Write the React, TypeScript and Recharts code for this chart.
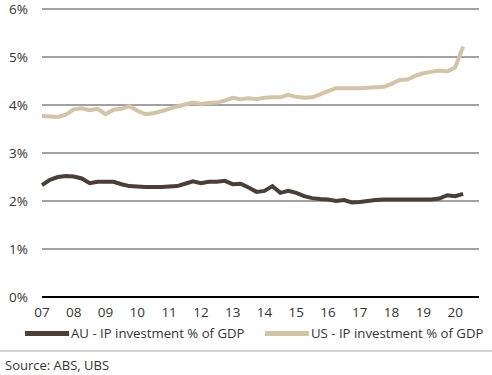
import { LineChart, Line, XAxis, YAxis, CartesianGrid } from 'recharts';

// quarterly, 2007 Q1 .. 2020 Q2
const quarters = [
  '07Q1', '07Q2', '07Q3', '07Q4', '08Q1', '08Q2', '08Q3', '08Q4', '09Q1', '09Q2', '09Q3', '09Q4',
  '10Q1', '10Q2', '10Q3', '10Q4', '11Q1', '11Q2', '11Q3', '11Q4', '12Q1', '12Q2', '12Q3', '12Q4',
  '13Q1', '13Q2', '13Q3', '13Q4', '14Q1', '14Q2', '14Q3', '14Q4', '15Q1', '15Q2', '15Q3', '15Q4',
  '16Q1', '16Q2', '16Q3', '16Q4', '17Q1', '17Q2', '17Q3', '17Q4', '18Q1', '18Q2', '18Q3', '18Q4',
  '19Q1', '19Q2', '19Q3', '19Q4', '20Q1', '20Q2',
];

const auSeries = [
  2.33, 2.44, 2.50, 2.52, 2.51, 2.47, 2.37, 2.40, 2.40, 2.40, 2.35, 2.31,
  2.30, 2.29, 2.29, 2.29, 2.30, 2.31, 2.36, 2.41, 2.37, 2.40, 2.40, 2.42,
  2.35, 2.36, 2.28, 2.19, 2.21, 2.31, 2.17, 2.21, 2.17, 2.10, 2.06, 2.04,
  2.03, 2.00, 2.02, 1.97, 1.98, 2.00, 2.02, 2.03, 2.03, 2.03, 2.03, 2.03,
  2.03, 2.03, 2.05, 2.12, 2.10, 2.15,
];

const usSeries = [
  3.77, 3.76, 3.75, 3.80, 3.91, 3.93, 3.89, 3.92, 3.81, 3.90, 3.92, 3.98,
  3.88, 3.81, 3.83, 3.87, 3.92, 3.97, 4.01, 4.05, 4.02, 4.04, 4.05, 4.09,
  4.15, 4.12, 4.14, 4.12, 4.15, 4.16, 4.16, 4.21, 4.17, 4.15, 4.16, 4.22,
  4.29, 4.35, 4.35, 4.35, 4.35, 4.36, 4.37, 4.38, 4.44, 4.52, 4.53, 4.61,
  4.66, 4.69, 4.72, 4.70, 4.78, 5.22,
];

const yearLabels = ['07', '08', '09', '10', '11', '12', '13', '14', '15', '16', '17', '18', '19', '20'];
const yTicks = [0, 1, 2, 3, 4, 5, 6];

const series = [
  { key: 'au', name: 'AU - IP investment % of GDP', color: '#4a3e36' },
  { key: 'us', name: 'US - IP investment % of GDP', color: '#d2c4a5' },
];

const data = quarters.map((q, i) => ({ t: i, q, au: auSeries[i], us: usSeries[i] }));
const xTicks = yearLabels.map((_, i) => i * 4);

const font = '"Open Sans", sans-serif';
const textColor = '#333';

export default function App() {
  return (
    <div style={{ position: 'absolute', left: 0, top: 0, width: 492, height: 375, background: '#fff', fontFamily: font }}>
      <LineChart width={492} height={322} data={data} margin={{ top: 9, right: 13, bottom: 0, left: 0 }}>
        <CartesianGrid horizontal vertical={false} stroke="#444" />
        <XAxis
          dataKey="t"
          type="number"
          domain={[0, 55]}
          ticks={xTicks}
          tickFormatter={(v: number) => yearLabels[v / 4]}
          interval={0}
          height={25}
          tickLine={false}
          axisLine={{ stroke: '#000', strokeWidth: 2 }}
          tick={{ fill: textColor, fontSize: 13.5, fontFamily: font }}
          tickMargin={4}
        />
        <YAxis
          domain={[0, 6]}
          ticks={yTicks}
          width={42}
          tickFormatter={(v: number) => `${v}%`}
          tickLine={false}
          axisLine={false}
          tick={{ fill: textColor, fontSize: 13.5, fontFamily: font }}
          tickMargin={8}
        />
        {series.map(s => (
          <Line
            key={s.key}
            dataKey={s.key}
            name={s.name}
            stroke={s.color}
            strokeWidth={4}
            dot={false}
            type="linear"
            isAnimationActive={false}
          />
        ))}
      </LineChart>
      <div style={{ position: 'absolute', top: 324, left: 0, width: 492, height: 20 }}>
        {series.map((s, i) => (
          <div key={s.key} style={{ position: 'absolute', left: i === 0 ? 25 : 265, top: 0, display: 'flex', alignItems: 'center', whiteSpace: 'nowrap' }}>
            <span style={{ display: 'inline-block', width: 44, height: 5, background: s.color, marginRight: 2 }} />
            <span style={{ fontSize: 13.2, color: textColor }}>{s.name}</span>
          </div>
        ))}
      </div>
      <div style={{ position: 'absolute', top: 350, left: 0, width: 492, height: 2, background: '#d4d4d4' }} />
      <div style={{ position: 'absolute', top: 356, left: 5, fontSize: 13, color: textColor }}>Source: ABS, UBS</div>
    </div>
  );
}
